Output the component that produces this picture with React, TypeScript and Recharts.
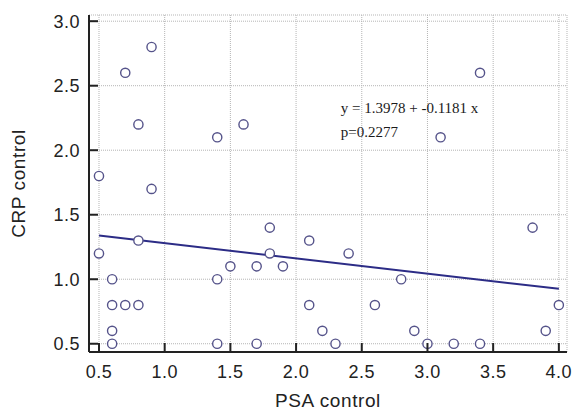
import React from 'react';
import {
  ScatterChart,
  Scatter,
  XAxis,
  YAxis,
  CartesianGrid,
  ReferenceLine,
  ReferenceDot,
} from 'recharts';

// PSA control (x) and CRP control (y) observations
const psaValues = [
  0.5, 0.5, 0.6, 0.6, 0.6, 0.6, 0.7, 0.7, 0.8, 0.8, 0.8, 0.9, 0.9,
  1.4, 1.4, 1.4, 1.5, 1.6, 1.7, 1.7, 1.8, 1.8, 1.9, 2.1, 2.1, 2.2,
  2.3, 2.4, 2.6, 2.8, 2.9, 3.0, 3.1, 3.2, 3.4, 3.4, 3.8, 3.9, 4.0,
];
const crpValues = [
  1.8, 1.2, 1.0, 0.8, 0.6, 0.5, 2.6, 0.8, 2.2, 1.3, 0.8, 2.8, 1.7,
  2.1, 1.0, 0.5, 1.1, 2.2, 1.1, 0.5, 1.4, 1.2, 1.1, 1.3, 0.8, 0.6,
  0.5, 1.2, 0.8, 1.0, 0.6, 0.5, 2.1, 0.5, 2.6, 0.5, 1.4, 0.6, 0.8,
];

const xTicks = [0.5, 1.0, 1.5, 2.0, 2.5, 3.0, 3.5, 4.0];
const yTicks = [0.5, 1.0, 1.5, 2.0, 2.5, 3.0];

// Regression shown on the chart
const regIntercept = 1.3978;
const regSlope = -0.1181;
const regRange = [0.5, 4.0];
const equationText = 'y = 1.3978 + -0.1181 x';
const pText = 'p=0.2277';
const equationPos = { x: 2.34, y: 2.29 };
const pPos = { x: 2.34, y: 2.1 };

const xTitle = 'PSA control';
const yTitle = 'CRP control';

const data = psaValues.map((x, i) => ({ x, y: crpValues[i] }));

const W = 575;
const H = 412;
const AXIS_COLOR = '#222';
const SANS = '"Liberation Sans", Arial, sans-serif';
const SERIF = '"Liberation Serif", "Times New Roman", serif';

const XTick = (props: any) => {
  const { x, y, payload } = props;
  return (
    <g>
      <line x1={x} y1={y} x2={x} y2={y - 9} stroke={AXIS_COLOR} strokeWidth={2} />
      <text
        x={x}
        y={y + 26}
        textAnchor="middle"
        fontFamily={SANS}
        fontSize={18}
        letterSpacing={0.5}
        fill="#222"
      >
        {Number(payload.value).toFixed(1)}
      </text>
    </g>
  );
};

const YTick = (props: any) => {
  const { x, y, payload } = props;
  return (
    <g>
      <line x1={x} y1={y} x2={x + 9} y2={y} stroke={AXIS_COLOR} strokeWidth={2} />
      <text
        x={x - 9}
        y={y + 6.5}
        textAnchor="end"
        fontFamily={SANS}
        fontSize={18}
        letterSpacing={0.5}
        fill="#222"
      >
        {Number(payload.value).toFixed(1)}
      </text>
    </g>
  );
};

const Dot = (props: any) => {
  const { cx, cy } = props;
  return <circle cx={cx} cy={cy} r={4.6} fill="#fff" stroke="#55538a" strokeWidth={1.4} />;
};

const makeTextShape = (txt: string) => (props: any) => (
  <text x={props.cx} y={props.cy} fontFamily={SERIF} fontSize={15} fill="#1a1a1a">
    {txt}
  </text>
);

export default function App() {
  return (
    <div style={{ position: 'absolute', left: 0, top: 0, width: W, height: H, background: '#fff' }}>
      <ScatterChart
        width={W}
        height={H}
        margin={{ top: 15, right: 8, bottom: 0, left: 0 }}
      >
        <CartesianGrid stroke="#b5b5b5" strokeDasharray="1 1" />
        <XAxis
          type="number"
          dataKey="x"
          domain={[0.424, 4.062]}
          ticks={xTicks}
          allowDataOverflow
          height={60}
          tickSize={0}
          tickMargin={0}
          tickLine={false}
          axisLine={{ stroke: AXIS_COLOR, strokeWidth: 2 }}
          tick={<XTick />}
          interval={0}
          label={(p: any) => {
            const vb = p.viewBox;
            return (
              <text
                x={vb.x + vb.width / 2}
                y={407}
                textAnchor="middle"
                fontFamily={SANS}
                fontSize={19}
                letterSpacing={0.6}
                fill="#222"
              >
                {xTitle}
              </text>
            );
          }}
        />
        <YAxis
          type="number"
          dataKey="y"
          domain={[0.436, 3.048]}
          ticks={yTicks}
          allowDataOverflow
          width={89}
          tickSize={0}
          tickMargin={0}
          tickLine={false}
          axisLine={{ stroke: AXIS_COLOR, strokeWidth: 2 }}
          tick={<YTick />}
          interval={0}
          label={(p: any) => {
            const vb = p.viewBox;
            const cy = vb.y + vb.height / 2;
            return (
              <text
                x={25}
                y={cy}
                transform={`rotate(-90, 25, ${cy})`}
                textAnchor="middle"
                fontFamily={SANS}
                fontSize={19}
                letterSpacing={0.6}
                fill="#222"
              >
                {yTitle}
              </text>
            );
          }}
        />
        <ReferenceLine
          segment={[
            { x: regRange[0], y: regIntercept + regSlope * regRange[0] },
            { x: regRange[1], y: regIntercept + regSlope * regRange[1] },
          ]}
          stroke="#2c2c86"
          strokeWidth={2}
        />
        <Scatter data={data} shape={<Dot />} isAnimationActive={false} />
        <ReferenceDot x={equationPos.x} y={equationPos.y} r={0} shape={makeTextShape(equationText)} />
        <ReferenceDot x={pPos.x} y={pPos.y} r={0} shape={makeTextShape(pText)} />
      </ScatterChart>
    </div>
  );
}
